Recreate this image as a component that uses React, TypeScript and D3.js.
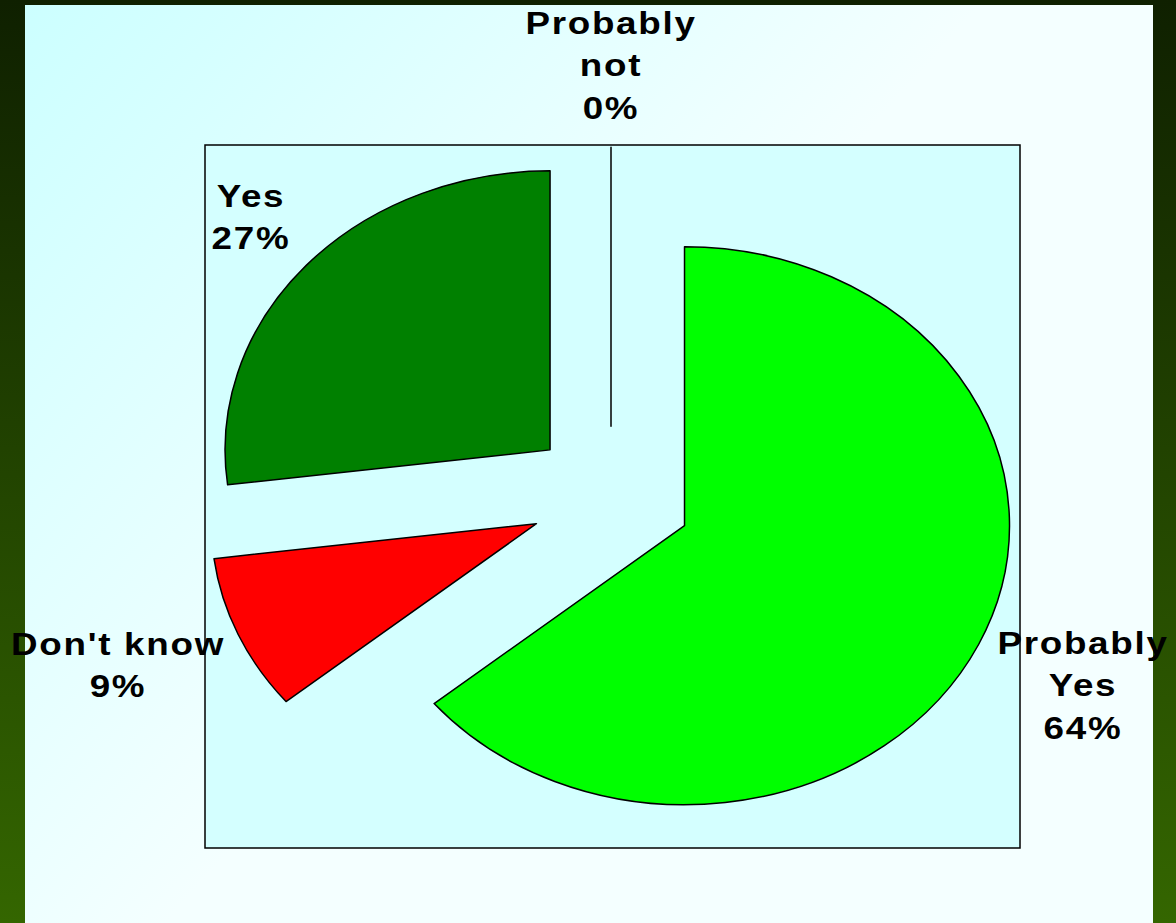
import React from "react";
import * as d3 from "d3";

const categories = ["Probably Yes", "Don't know", "Yes", "Probably not"];
const values = [64, 9, 27, 0];
const labelLines = [
  ["Probably", "Yes", "64%"],
  ["Don't know", "9%"],
  ["Yes", "27%"],
  ["Probably", "not", "0%"],
];
const colors = ["#00FF00", "#FF0000", "#008000", "#000000"];

const W = 1176;
const H = 923;
const cx = 611;
const cy = 496;
const rx = 325;
const ry = 279;
const explode = 0.25;

const labelPos = [
  { x: 1083, y: 654 },
  { x: 118, y: 655 },
  { x: 251, y: 207 },
  { x: 611, y: 34 },
];

export default function App() {
  const pie = d3
    .pie<number>()
    .sort(null)
    .value((d) => d)
    .startAngle(0)
    .endAngle(2 * Math.PI);
  const arcs = pie(values);
  const arc = d3.arc<d3.PieArcDatum<number>>().innerRadius(0).outerRadius(rx);

  return (
    <div style={{ position: "absolute", left: 0, top: 0, width: W, height: H }}>
      <svg width={W} height={H} style={{ display: "block" }}>
        <defs>
          <linearGradient id="bg" x1="0" y1="0" x2="0" y2="1">
            <stop offset="0" stopColor="#0f2000" />
            <stop offset="1" stopColor="#346600" />
          </linearGradient>
          <linearGradient
            id="panel"
            gradientUnits="userSpaceOnUse"
            x1={25}
            y1={5}
            x2={560}
            y2={480}
          >
            <stop offset="0" stopColor="#CCFFFF" />
            <stop offset="1" stopColor="#F4FFFF" />
          </linearGradient>
        </defs>
        <rect x={0} y={0} width={W} height={H} fill="url(#bg)" />
        <rect x={25} y={5} width={1128} height={H - 5} fill="url(#panel)" />
        <rect
          x={205}
          y={145}
          width={815}
          height={703}
          fill="#D4FFFF"
          stroke="#000"
          strokeWidth={1.5}
        />
        <g transform={`translate(${cx},${cy}) scale(1,${ry / rx})`}>
          {arcs.map((a, i) => {
            const mid = (a.startAngle + a.endAngle) / 2;
            const dx = explode * rx * Math.sin(mid);
            const dy = -explode * rx * Math.cos(mid);
            return (
              <path
                key={categories[i]}
                d={arc(a) || ""}
                transform={`translate(${dx},${dy})`}
                fill={colors[i]}
                stroke="#000"
                strokeWidth={1.5}
                strokeLinejoin="round"
                vectorEffect="non-scaling-stroke"
              />
            );
          })}
        </g>
        {labelLines.map((lines, i) => (
          <g
            key={categories[i]}
            transform={`translate(${labelPos[i].x},${labelPos[i].y}) scale(1.15,1)`}
          >
            {lines.map((t, j) => (
              <text
                key={j}
                x={0}
                y={j * 42.5}
                textAnchor="middle"
                fontFamily="'Liberation Sans', Arial, sans-serif"
                fontWeight="bold"
                fontSize={32}
                letterSpacing={1.5}
                fill="#000"
              >
                {t}
              </text>
            ))}
          </g>
        ))}
      </svg>
    </div>
  );
}
